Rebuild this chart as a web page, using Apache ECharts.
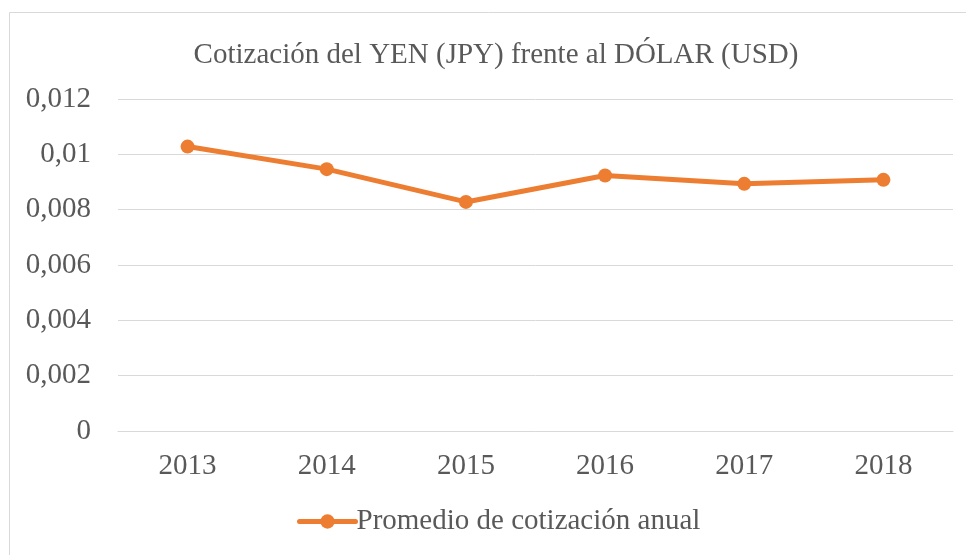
<!DOCTYPE html>
<html>
<head>
<meta charset="utf-8">
<script src="https://cdn.jsdelivr.net/npm/echarts@6/dist/echarts.min.js"></script>
<style>
  html, body { margin: 0; padding: 0; background: #fff; }
  #chart { width: 966px; height: 555px; }
</style>
</head>
<body>
<div id="chart"></div>
<script>
const years = ['2013', '2014', '2015', '2016', '2017', '2018'];
const promedio = [0.01028, 0.009465, 0.00828, 0.009233, 0.008933, 0.009078];
const yTicks = { min: 0, max: 0.012, interval: 0.002 };

const font = '"Liberation Serif", "Times New Roman", serif';
const textColor = '#595959';
const orange = '#ED7D31';

const chart = echarts.init(document.getElementById('chart'));

chart.setOption({
  animation: false,
  graphic: [{
    type: 'rect',
    shape: { x: 9.5, y: 12.5, width: 970, height: 560 },
    style: { fill: 'none', stroke: '#d9d9d9', lineWidth: 1 },
    silent: true
  }],
  title: {
    text: 'Cotización del YEN (JPY) frente al DÓLAR (USD)',
    left: 491,
    textAlign: 'center',
    top: 36,
    textStyle: { fontFamily: font, fontSize: 29, fontWeight: 'normal', color: textColor }
  },
  legend: {
    bottom: 14,
    left: 292,
    itemWidth: 56,
    itemHeight: 18,
    itemGap: 4,
    lineStyle: { width: 5, cap: 'round' },
    textStyle: { fontFamily: font, fontSize: 29, color: textColor, padding: [0, 0, 0, -4] },
    data: ['Promedio de cotización anual']
  },
  grid: { left: 118, right: 13, top: 99, bottom: 124 },
  xAxis: {
    type: 'category',
    data: years,
    axisLine: { lineStyle: { color: '#d9d9d9', width: 1 } },
    axisTick: { show: false },
    axisLabel: { fontFamily: font, fontSize: 29, color: textColor, margin: 21 }
  },
  yAxis: {
    type: 'value',
    min: yTicks.min,
    max: yTicks.max,
    interval: yTicks.interval,
    axisLine: { show: false },
    axisTick: { show: false },
    splitLine: { lineStyle: { color: '#d9d9d9', width: 1 } },
    axisLabel: {
      fontFamily: font, fontSize: 29, color: textColor, margin: 27,
      formatter: v => v === 0 ? '0' : String(+v.toFixed(3)).replace('.', ',')
    }
  },
  series: [{
    name: 'Promedio de cotización anual',
    type: 'line',
    data: promedio,
    symbol: 'circle',
    symbolSize: 14,
    lineStyle: { color: orange, width: 5 },
    itemStyle: { color: orange }
  }]
});
</script>
</body>
</html>
